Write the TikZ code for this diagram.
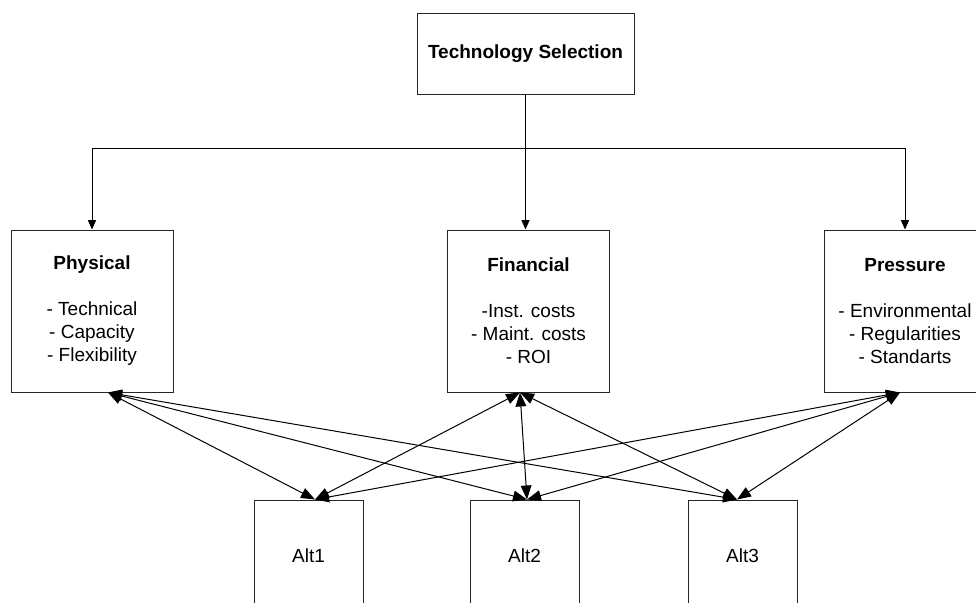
\documentclass[tikz,border=0pt]{standalone}
\usepackage{fontspec}
\setmainfont{Liberation Sans}
\usetikzlibrary{arrows.meta,calc}
\begin{document}
\begin{tikzpicture}[x=0.75pt,y=-0.75pt,
  box/.style={draw=black!85, line width=0.75pt, fill=white, inner sep=0pt, align=center,
              font=\fontsize{14.25pt}{17.25pt}\selectfont},
  bigbox/.style={box, minimum width=121.5pt, minimum height=121.5pt},
  altbox/.style={box, minimum width=81.75pt, minimum height=84pt},
  link/.style={line width=0.75pt, -{Triangle[length=7pt,width=6pt]}},
  dual/.style={line width=0.75pt, {Triangle[length=10.5pt,width=8pt]}-{Triangle[length=10.5pt,width=8pt]}}]
\useasboundingbox (0,0) rectangle (976,603);
\clip (0,0) rectangle (976,603);

\node[box, minimum width=162.75pt, minimum height=60.75pt] (top) at (525.5,53.5) {\textbf{Technology Selection}};
\node[bigbox] (phys) at (92,311) {\textbf{Physical}\\[17.25pt]- Technical\\- Capacity\\- Flexibility};
\node[bigbox] (fin) at (528.5,311) {\textbf{Financial}\\[17.25pt]-Inst. costs\\- Maint. costs\\- ROI};
\node[bigbox] (pres) at (905,311) {\textbf{Pressure}\\[17.25pt]- Environmental\\- Regularities\\- Standarts};
\node[altbox] (alt1) at (308.5,556) {Alt1};
\node[altbox] (alt2) at (524.5,556) {Alt2};
\node[altbox] (alt3) at (742.5,556) {Alt3};

\coordinate (j) at ($(top.south)+(0,54)$);
\draw[link] (top.south) -- (top.south |- fin.north);
\draw[link] (j) -| (phys.north);
\draw[link] (j) -| (pres.north);

\coordinate (pb) at ($(phys.south)+(16,0)$);
\coordinate (fb) at ($(fin.south)+(-8.5,0)$);
\coordinate (rb) at ($(pres.south)+(-5,0)$);
\coordinate (a1) at ($(alt1.north)+(6.5,0)$);
\coordinate (a2) at ($(alt2.north)+(2.5,0)$);
\coordinate (a3) at ($(alt3.north)+(-5.5,0)$);

\foreach \s in {pb,fb,rb}{
  \foreach \t in {a1,a2,a3}{
    \draw[dual] (\s) -- (\t);
  }
}
\end{tikzpicture}
\end{document}
